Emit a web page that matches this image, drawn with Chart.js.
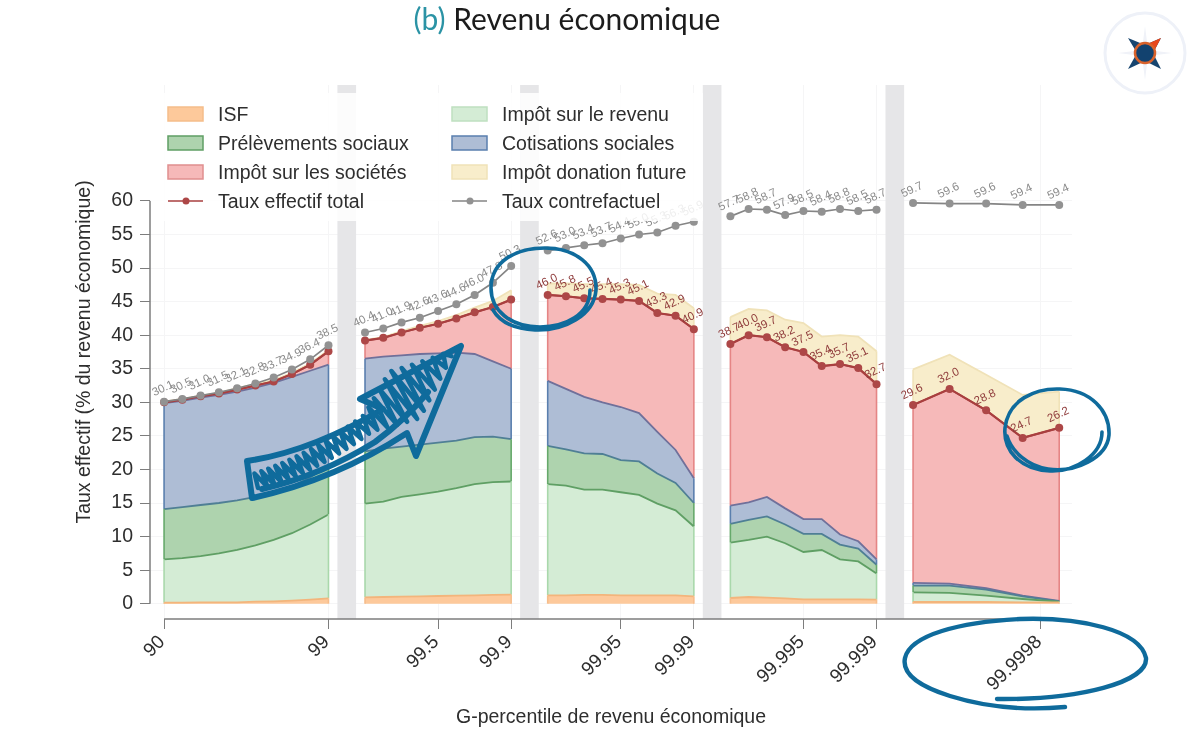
<!DOCTYPE html>
<html lang="fr">
<head>
<meta charset="utf-8">
<title>Revenu économique</title>
<script src="https://cdn.jsdelivr.net/npm/chart.js@4/dist/chart.umd.js"></script>
<style>
    html, body { margin: 0; background: #fff; }
    #wrap { position: relative; width: 1200px; height: 748px; overflow: hidden; }
    #chart { position: absolute; left: 0; top: 0; }
    #title { position: absolute; left: 0; top: 0; width: 1134px; text-align: center; font: 30px/36px Lato, sans-serif; color: #1c1c1c; }
    #title span { color: #2b93a5; }
    #marks { position: absolute; left: 0; top: 0; }
</style>
</head>
<body>
<div id="wrap">
    <canvas id="chart" width="1200" height="748"></canvas>
    <div id="title"><span>(b)</span> Revenu économique</div>
    <svg id="marks" width="1200" height="748" viewBox="0 0 1200 748" fill="none"></svg>
</div>
<script>
// x slots, one unit per fractile step; null in the series marks the empty slot between panels
const xPositions = [0,1,2,3,4,5,6,7,8,9, 10, 11,12,13,14,15,16,17,18,19, 20, 21,22,23,24,25,26,27,28,29, 30, 31,32,33,34,35,36,37,38,39, 40, 41,43,45,47,49];
const gapPositions = [10, 20, 30, 40];

const xTickValues = [0, 9, 15, 19, 25, 29, 35, 39, 48];
const xTickLabels = ["90", "99", "99.5", "99.9", "99.95", "99.99", "99.995", "99.999", "99.9998"];
const yTickValues = [0, 5, 10, 15, 20, 25, 30, 35, 40, 45, 50, 55, 60];

const isf = [.15,.15,.2,.2,.2,.3,.35,.45,.6,.8, null,
    .95,1,1.05,1.1,1.15,1.2,1.25,1.3,1.35, null,
    1.25,1.25,1.3,1.3,1.25,1.25,1.25,1.25,1.1, null,
    .85,1,.9,.8,.65,.65,.65,.65,.6, null,
    .25,.25,.25,.2,.2];
const impotRevenu = [6.45,6.65,6.9,7.3,7.8,8.4,9.15,10.05,11.2,12.5, null,
    13.95,14.2,14.85,15.2,15.55,16,16.55,16.8,16.85, null,
    16.55,16.35,15.7,15.7,15.35,14.95,13.65,12.65,10.4, null,
    8.25,8.5,9.1,8.2,7.05,7.35,5.95,5.65,3.9, null,
    1.45,1.35,.95,.5,.1];
const prelevements = [7.5,7.6,7.6,7.5,7.4,7.2,7.1,7,7,7.2, null,
    7.8,7.9,7.5,7.4,7.3,7.1,7,6.8,6.3, null,
    5.7,5.4,5.4,5.3,4.8,5,4.5,4.1,3.5, null,
    2.8,3,3,2.8,2.7,2.4,2.2,1.9,1.3, null,
    1,1.1,.9,.4,.05];
const cotisations = [15.8,15.8,16,16.1,16.2,16.3,16.3,16.3,15.9,15.1, null,
    13.8,13.7,13.6,13.5,13.3,13.1,12.4,11.2,10.5, null,
    9.7,9,8.4,7.7,7.9,7.2,6.2,4.9,3.7, null,
    2.7,2.6,2.9,2.4,2.2,2.2,1.5,1.1,.8, null,
    .4,.3,.2,.1,.05];
const impotSocietes = [.1,.2,.2,.2,.3,.3,.2,.4,.9,2, null,
    2.7,2.8,3.4,3.9,4.4,5.1,6.2,8.1,10.3, null,
    12.8,13.8,14.7,15.4,16,16.7,17.7,20,22.2, null,
    24.1,24.9,23.8,24,24.9,22.8,25.4,25.8,26.1, null,
    26.5,29,26.5,23.5,25.8];
const donationFuture = [.1,.1,.1,.1,.2,.2,.2,.2,.2,.2, null,
    .1,.1,.2,.3,.4,.5,.7,.9,1.4, null,
    1.7,1.9,2.1,2.2,2.3,2.4,2.9,3.1,3.1, null,
    4,3.9,4,4.1,4.3,4.4,4.3,4.7,4.9, null,
    5.3,5.1,5.3,6.4,5.4];
const tauxEffectif = [30,30.4,30.9,31.3,31.9,32.5,33.1,34.2,35.6,37.6, null,
    39.2,39.6,40.4,41.1,41.7,42.5,43.4,44.2,45.3, null,
    46,45.8,45.5,45.4,45.3,45.1,43.3,42.9,40.9, null,
    38.7,40,39.7,38.2,37.5,35.4,35.7,35.1,32.7, null,
    29.6,32,28.8,24.7,26.2];
const tauxContrefactuel = [30.1,30.5,31,31.5,32.1,32.8,33.7,34.9,36.4,38.5, null,
    40.4,41,41.9,42.6,43.6,44.6,46,47.8,50.3, null,
    52.6,53,53.4,53.7,54.4,55,55.3,56.3,56.9, null,
    57.7,58.8,58.7,57.9,58.5,58.4,58.8,58.5,58.7, null,
    59.7,59.6,59.6,59.4,59.4];

const Y_MIN = -2.28, Y_MAX = 77.27;
const AXIS_FONT = "'Liberation Sans', Arial, sans-serif";

function toPoints(values) {
    return xPositions.map((x, i) => ({ x: x, y: values[i] }));
}

function layer(label, values, fill, line, edge, swatchBorder) {
    return {
        type: "line", label: label, data: toPoints(values), stack: "impots", order: 5,
        backgroundColor: fill, borderColor: line, borderWidth: 1.8, pointRadius: 0,
        fill: "-1", tension: 0, edgeColor: edge, swatchBorder: swatchBorder
    };
}

function rateLine(label, values, color, dot, width, order) {
    return {
        type: "line", label: label, data: toPoints(values), stack: label, order: order,
        borderColor: color, backgroundColor: dot, borderWidth: width, fill: false, tension: 0,
        pointRadius: 4, pointBorderWidth: 0, pointBackgroundColor: dot
    };
}

const datasets = [
    {
        type: "bar", label: "gaps", order: 10, stack: "gaps",
        data: gapPositions.map(x => ({ x: x, y: [Y_MIN, Y_MAX] })),
        backgroundColor: "#e6e6e8", barThickness: 18
    },
    Object.assign(layer("ISF", isf, "#fdc99b", "#f3b57c", "#f6bd8b", "#f5bd8a"), { fill: { value: 0 } }),
    layer("Impôt sur le revenu", impotRevenu, "#d4ecd5", "#5f9f64", "#a9d8ab", "#bfe0c0"),
    layer("Prélèvements sociaux", prelevements, "#aed3ae", "#4f7f95", "#66a96b", "#5f9f64"),
    layer("Cotisations sociales", cotisations, "#aebdd5", "#70709a", "#5a7fae", "#5a7fae"),
    layer("Impôt sur les sociétés", impotSocietes, "#f6b9b9", "#b04a4a", "#e58585", "#e08f8f"),
    layer("Impôt donation future", donationFuture, "#f8edcb", "#f0e2b8", "#f0e2b8", "#f0e2b8"),
    rateLine("Taux effectif total", tauxEffectif, "#a93f3f", "#ad4747", 2.2, 2),
    rateLine("Taux contrefactuel", tauxContrefactuel, "#858585", "#929292", 1.7, 1)
];

// side outlines of every stacked layer, at the first and last point of each panel
const layerEdges = {
    id: "layerEdges",
    afterDatasetDraw(chart, args) {
        const ds = chart.data.datasets[args.index];
        if (!ds.edgeColor) return;
        const ctx = chart.ctx;
        const pts = args.meta.data;
        const below = args.index > 1 ? chart.getDatasetMeta(args.index - 1).data : null;
        const zero = chart.scales.y.getPixelForValue(0);
        ctx.save();
        ctx.strokeStyle = ds.edgeColor;
        ctx.lineWidth = 1.6;
        pts.forEach((p, i) => {
            if (p.skip) return;
            const first = i === 0 || pts[i - 1].skip;
            const last = i === pts.length - 1 || pts[i + 1].skip;
            if (!first && !last) return;
            ctx.beginPath();
            ctx.moveTo(p.x, below ? below[i].y : zero);
            ctx.lineTo(p.x, p.y);
            ctx.stroke();
        });
        ctx.restore();
    }
};

// tilted value labels above the two rate lines
const valueLabels = {
    id: "valueLabels",
    afterDatasetsDraw(chart) {
        const ctx = chart.ctx;
        const draw = (index, color, fromX) => {
            const values = chart.data.datasets[index].data;
            chart.getDatasetMeta(index).data.forEach((p, i) => {
                if (p.skip || values[i].x < fromX) return;
                ctx.save();
                ctx.translate(p.x - 1, p.y - 13);
                ctx.rotate(-25 * Math.PI / 180);
                ctx.font = "11.5px " + AXIS_FONT;
                ctx.fillStyle = color;
                ctx.textAlign = "center";
                ctx.textBaseline = "middle";
                ctx.fillText(values[i].y.toFixed(1), 0, 0);
                ctx.restore();
            });
        };
        draw(8, "#8a8a8a", 0);
        draw(7, "#8f3b3b", 21);
    }
};

// axis lines run from the first tick to the last one only
const axisLines = {
    id: "axisLines",
    afterDraw(chart) {
        const ctx = chart.ctx, x = chart.scales.x, y = chart.scales.y;
        ctx.save();
        ctx.strokeStyle = "#7d7d7d";
        ctx.lineWidth = 1.5;
        ctx.beginPath();
        ctx.moveTo(x.getPixelForValue(xTickValues[0]), y.bottom);
        ctx.lineTo(x.getPixelForValue(xTickValues[xTickValues.length - 1]), y.bottom);
        ctx.moveTo(x.left, y.getPixelForValue(yTickValues[0]));
        ctx.lineTo(x.left, y.getPixelForValue(yTickValues[yTickValues.length - 1]));
        ctx.stroke();
        ctx.restore();
    }
};

// two-column key on a nearly opaque white panel laid over the plot
const keyPanel = {
    id: "keyPanel",
    afterDatasetsDraw(chart) {
        const ctx = chart.ctx;
        const rows = [114, 143, 172, 201];
        const columns = [
            { swatch: 168, text: 218, items: [1, 3, 5, 7] },
            { swatch: 452, text: 502, items: [2, 4, 6, 8] }
        ];
        ctx.save();
        ctx.fillStyle = "rgba(255,255,255,0.86)";
        ctx.fillRect(151, 93, 552, 128);
        ctx.font = "19.5px " + AXIS_FONT;
        ctx.textBaseline = "middle";
        columns.forEach(col => {
            col.items.forEach((index, r) => {
                const ds = chart.data.datasets[index], cy = rows[r];
                if (ds.edgeColor) {
                    ctx.fillStyle = ds.backgroundColor;
                    ctx.fillRect(col.swatch, cy - 7, 35, 14);
                    ctx.strokeStyle = ds.swatchBorder;
                    ctx.lineWidth = 1.5;
                    ctx.strokeRect(col.swatch, cy - 7, 35, 14);
                } else {
                    ctx.strokeStyle = ds.borderColor;
                    ctx.lineWidth = 1.7;
                    ctx.beginPath();
                    ctx.moveTo(col.swatch, cy);
                    ctx.lineTo(col.swatch + 35, cy);
                    ctx.stroke();
                    ctx.fillStyle = ds.pointBackgroundColor;
                    ctx.beginPath();
                    ctx.arc(col.swatch + 18, cy, 3.5, 0, Math.PI * 2);
                    ctx.fill();
                }
                ctx.fillStyle = "#2e2e2e";
                ctx.fillText(ds.label, col.text, cy + 1.5);
            });
        });
        ctx.restore();
    }
};

const chart = new Chart(document.getElementById("chart"), {
    type: "line",
    data: { datasets: datasets },
    plugins: [layerEdges, valueLabels, keyPanel, axisLines],
    options: {
        responsive: false,
        animation: false,
        layout: { padding: { left: 0, right: 128, top: 85, bottom: 0 } },
        plugins: { legend: { display: false }, tooltip: { enabled: false }, title: { display: false } },
        scales: {
            x: {
                type: "linear",
                offset: false,
                min: -0.77,
                max: 49.7,
                afterFit(scale) { scale.height = 129; },
                afterBuildTicks(scale) { scale.ticks = xTickValues.map(v => ({ value: v })); },
                border: { display: false },
                grid: { color: "#f5f5f6", tickColor: "#7d7d7d", tickLength: 10, lineWidth: 1, offset: false },
                ticks: {
                    autoSkip: false, minRotation: 45, maxRotation: 45, padding: 2, labelOffset: -2,
                    color: "#2e2e2e",
                    font: { family: AXIS_FONT, size: 19 },
                    callback: (value, i) => xTickLabels[i]
                },
                title: {
                    display: true, text: "G-percentile de revenu économique", color: "#2e2e2e",
                    font: { family: AXIS_FONT, size: 19.5 },
                    padding: { top: 4, bottom: 19 }
                }
            },
            y: {
                stacked: true,
                min: Y_MIN,
                max: Y_MAX,
                afterFit(scale) { scale.width = 150; },
                afterBuildTicks(scale) { scale.ticks = yTickValues.map(v => ({ value: v })); },
                border: { display: false },
                grid: { color: "#f5f5f6", tickColor: "#7d7d7d", tickLength: 10, lineWidth: 1 },
                ticks: {
                    padding: 7, color: "#2e2e2e",
                    font: { family: AXIS_FONT, size: 19.5 }
                },
                title: {
                    display: true, text: "Taux effectif (% du revenu économique)", color: "#2e2e2e",
                    font: { family: AXIS_FONT, size: 19.5 },
                    padding: { top: 73, bottom: 0 }
                }
            }
        }
    }
});

// hand-drawn blue highlights and the logo, placed over the canvas
const INK = "#0f6b9c";
const svg = document.getElementById("marks");

function addPath(d, stroke, width, fill) {
    const el = document.createElementNS("http://www.w3.org/2000/svg", "path");
    el.setAttribute("d", d);
    el.setAttribute("stroke", stroke);
    el.setAttribute("stroke-width", width);
    el.setAttribute("fill", fill || "none");
    el.setAttribute("stroke-linecap", "round");
    el.setAttribute("stroke-linejoin", "round");
    svg.appendChild(el);
}

addPath("M590,290 C590,315 565,327 540,327 C510,327 491,310 491,288 C491,262 515,248 545,248 C575,248 597,265 596,290 C594,315 565,331 535,330 C515,329 500,322 493,310", INK, 3.6);
addPath("M1102,432 C1102,455 1075,472 1050,471 C1020,470 1003,450 1005,428 C1008,400 1035,388 1060,389 C1090,390 1110,410 1109,435 C1107,458 1075,473 1048,469 C1028,466 1012,452 1007,436", INK, 3.6);
addPath("M1065,707 C1020,711 985,707 950,696 C915,685 902,672 905,658 C910,635 960,622 1020,619 C1080,617 1140,630 1146,658 C1148,682 1080,700 997,699", INK, 4.4);

// arrow outline, then its scribbled shading
addPath("M247,461 Q310,452 383,409 L360,399 L461,346 L416,456 L407,433 Q335,480 252,498 Z", INK, 6);
let scribble = "M258,488";
for (let i = 1; i <= 52; i++) {
    const t = i / 52;
    const cx = (1 - t) * (1 - t) * 256 + 2 * t * (1 - t) * 345 + t * t * 450;
    const cy = (1 - t) * (1 - t) * 482 + 2 * t * (1 - t) * 455 + t * t * 354;
    const amp = t < 0.6 ? 9 : t < 0.78 ? 9 + (t - 0.6) * 105 : 28 - (t - 0.78) * 115;
    const side = i % 2 ? -1 : 1;
    scribble += " L" + (cx + side * amp * 0.55).toFixed(1) + "," + (cy + side * amp * 0.83).toFixed(1);
}
addPath(scribble, INK, 4.5);
addPath("M262,489 Q320,476 375,442 Q405,420 428,392", INK, 6);

// logo
addPath("M1185,53 A40,40 0 1 1 1105,53 A40,40 0 1 1 1185,53 Z", "#eef1f8", 3);
addPath("M1145,26 L1148,50 L1172,53 L1148,56 L1145,80 L1142,56 L1118,53 L1142,50 Z", "none", 0, "#f0f2f8");
addPath("M1128,38 L1145,45 L1161,38 L1153,53 L1161,69 L1145,61 L1128,69 L1137,53 Z", "none", 0, "#17456f");
addPath("M1145,45 L1161,38 L1153,53 Z", "none", 0, "#e8481c");
addPath("M1155,53 A10,10 0 1 1 1135,53 A10,10 0 1 1 1155,53 Z", "#d9622b", 2.5, "#12426f");
</script>
</body>
</html>
